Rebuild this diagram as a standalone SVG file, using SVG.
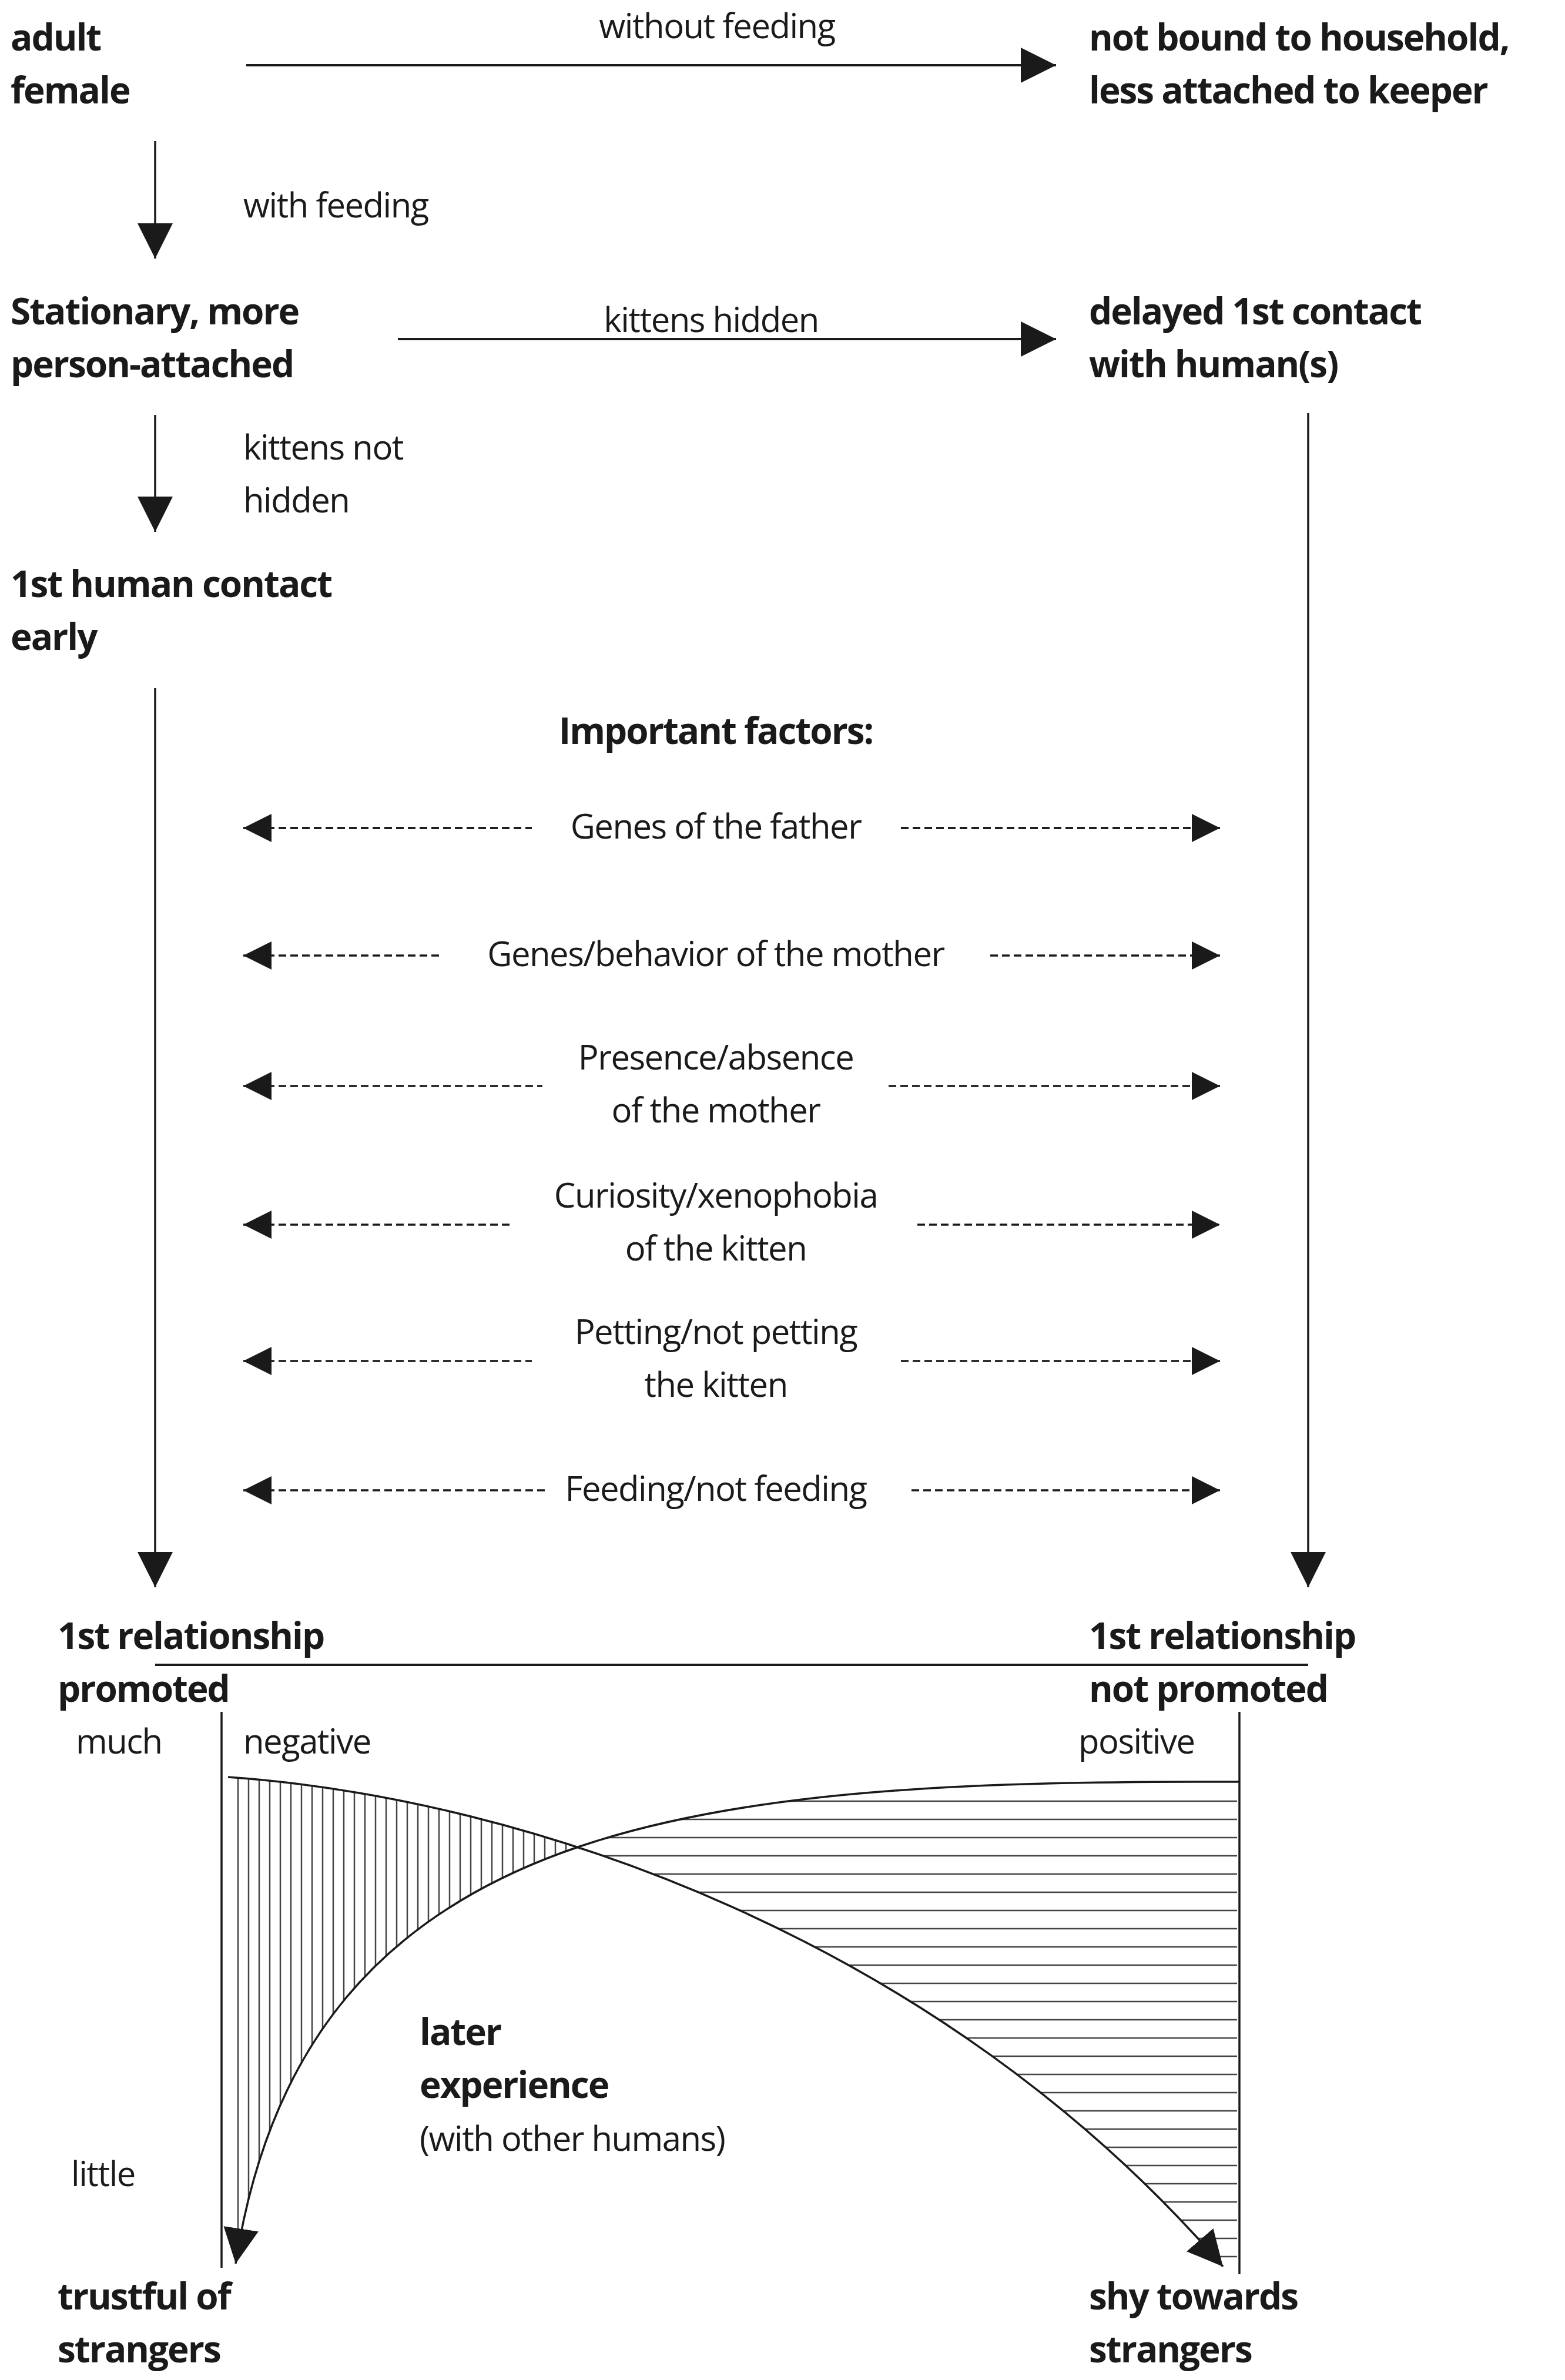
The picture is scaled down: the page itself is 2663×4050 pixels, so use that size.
<svg xmlns="http://www.w3.org/2000/svg" width="2663" height="4050" viewBox="0 0 2663 4050">
<style>
text{font-family:"Open Sans","Liberation Sans",sans-serif;fill:#1a1a1a}
.b{font-weight:bold;font-size:62px;letter-spacing:-2px}
.r{font-size:58px;letter-spacing:-1.5px}
.m{text-anchor:middle}
.ln{stroke:#1a1a1a;stroke-width:4;fill:none}
.th{stroke:#1a1a1a;stroke-width:3.5;fill:none}
.da{stroke:#1a1a1a;stroke-width:3.5;fill:none;stroke-dasharray:13 7}
.hv{stroke:#444;stroke-width:2.5}
</style>
<defs>
<marker id="ah" markerUnits="userSpaceOnUse" markerWidth="60" markerHeight="60" viewBox="0 0 50 50" refX="50" refY="25" orient="auto-start-reverse"><path d="M0,0 L50,25 L0,50 Z" fill="#1a1a1a"/></marker>
<marker id="as" markerUnits="userSpaceOnUse" markerWidth="48" markerHeight="48" viewBox="0 0 46 46" refX="46" refY="23" orient="auto-start-reverse"><path d="M0,0 L46,23 L0,46 Z" fill="#1a1a1a"/></marker>
<pattern id="pv" patternUnits="userSpaceOnUse" width="18" height="40"><line x1="9" y1="0" x2="9" y2="40" class="hv"/></pattern>
<pattern id="ph" patternUnits="userSpaceOnUse" width="40" height="31" y="3050"><line x1="0" y1="15" x2="40" y2="15" class="hv"/></pattern>
<clipPath id="cA"><path d="M388,3024 C900,3060 1600,3300 2081,3857 L2081,4000 L388,4000 Z"/></clipPath>
<clipPath id="cB"><path d="M2109,3032 C1200,3030 520,3080 401,3852 L392,3852 L392,2900 L2109,2900 Z"/></clipPath>
<clipPath id="cC"><path d="M2109,3032 C1200,3030 520,3080 401,3852 L2105,3852 Z"/></clipPath>
<clipPath id="cD"><path d="M388,3024 C900,3060 1600,3300 2081,3857 L2105,3857 L2105,2900 L388,2900 Z"/></clipPath>
</defs>
<rect width="2663" height="4050" fill="#fff"/>

<g id="connectors">
<line x1="419" y1="111" x2="1797" y2="111" class="ln" marker-end="url(#ah)"/>
<line x1="264" y1="240" x2="264" y2="440" class="th" marker-end="url(#ah)"/>
<line x1="677" y1="577" x2="1797" y2="577" class="ln" marker-end="url(#ah)"/>
<line x1="264" y1="706" x2="264" y2="905" class="th" marker-end="url(#ah)"/>
<line x1="264" y1="1171" x2="264" y2="2701" class="th" marker-end="url(#ah)"/>
<line x1="2226" y1="703" x2="2226" y2="2701" class="th" marker-end="url(#ah)"/>
<path d="M414,1409 H905 M1533,1409 H2076" class="da"/>
<line x1="414" y1="1409" x2="905" y2="1409" class="da" marker-start="url(#as)"/>
<line x1="1533" y1="1409" x2="2076" y2="1409" class="da" marker-end="url(#as)"/>
<line x1="414" y1="1626" x2="750" y2="1626" class="da" marker-start="url(#as)"/>
<line x1="1685" y1="1626" x2="2076" y2="1626" class="da" marker-end="url(#as)"/>
<line x1="414" y1="1848" x2="923" y2="1848" class="da" marker-start="url(#as)"/>
<line x1="1512" y1="1848" x2="2076" y2="1848" class="da" marker-end="url(#as)"/>
<line x1="414" y1="2084" x2="871" y2="2084" class="da" marker-start="url(#as)"/>
<line x1="1561" y1="2084" x2="2076" y2="2084" class="da" marker-end="url(#as)"/>
<line x1="414" y1="2316" x2="905" y2="2316" class="da" marker-start="url(#as)"/>
<line x1="1533" y1="2316" x2="2076" y2="2316" class="da" marker-end="url(#as)"/>
<line x1="414" y1="2536" x2="931" y2="2536" class="da" marker-start="url(#as)"/>
<line x1="1551" y1="2536" x2="2076" y2="2536" class="da" marker-end="url(#as)"/>
</g>

<g id="n-adult"><text class="b" x="18" y="86">adult</text><text class="b" x="18" y="176">female</text></g>
<g id="n-notbound"><text class="b" x="1853" y="86">not bound to household,</text><text class="b" x="1853" y="176">less attached to keeper</text></g>
<g id="n-stationary"><text class="b" x="18" y="552">Stationary, more</text><text class="b" x="18" y="642">person-attached</text></g>
<g id="n-delayed"><text class="b" x="1853" y="552">delayed 1st contact</text><text class="b" x="1853" y="642">with human(s)</text></g>
<g id="n-early"><text class="b" x="18" y="1016">1st human contact</text><text class="b" x="18" y="1106">early</text></g>
<g id="labels">
<text class="r m" x="1220" y="65">without feeding</text>
<text class="r" x="414" y="370">with feeding</text>
<text class="r m" x="1210" y="565">kittens hidden</text>
<text class="r" x="414" y="782">kittens not</text>
<text class="r" x="414" y="872">hidden</text>
</g>
<g id="factors">
<text class="b m" x="1218" y="1266">Important factors:</text>
<text class="r m" x="1218" y="1427">Genes of the father</text>
<text class="r m" x="1218" y="1644">Genes/behavior of the mother</text>
<text class="r m" x="1218" y="1820">Presence/absence</text>
<text class="r m" x="1218" y="1910">of the mother</text>
<text class="r m" x="1218" y="2055">Curiosity/xenophobia</text>
<text class="r m" x="1218" y="2145">of the kitten</text>
<text class="r m" x="1218" y="2287">Petting/not petting</text>
<text class="r m" x="1218" y="2377">the kitten</text>
<text class="r m" x="1218" y="2554">Feeding/not feeding</text>
</g>

<g id="graph">
<text class="b" x="98" y="2806">1st relationship</text>
<text class="b" x="98" y="2896">promoted</text>
<text class="b" x="1853" y="2806">1st relationship</text>
<text class="b" x="1853" y="2896">not promoted</text>
<line x1="264" y1="2833" x2="2226" y2="2833" class="ln"/>
<line x1="377" y1="2913" x2="377" y2="3859" class="th"/>
<line x1="2109" y1="2913" x2="2109" y2="3870" class="th"/>
<text class="r" x="129" y="2984">much</text>
<text class="r" x="414" y="2984">negative</text>
<text class="r" x="1835" y="2984">positive</text>
<text class="r" x="121" y="3720">little</text>
<g clip-path="url(#cA)"><g clip-path="url(#cB)"><rect x="388" y="2900" width="1720" height="1000" fill="url(#pv)"/></g></g>
<g clip-path="url(#cC)"><g clip-path="url(#cD)"><rect x="388" y="3040" width="1720" height="830" fill="url(#ph)"/></g></g>
<path d="M388,3024 C900,3060 1600,3300 2081,3857" class="th" marker-end="url(#ah)"/>
<path d="M2109,3032 C1200,3030 520,3080 401,3852" class="th" marker-end="url(#ah)"/>
<text class="b" x="714" y="3480">later</text>
<text class="b" x="714" y="3570">experience</text>
<text class="r" x="714" y="3660">(with other humans)</text>
<text class="b" x="98" y="3930">trustful of</text>
<text class="b" x="98" y="4020">strangers</text>
<text class="b" x="1853" y="3930">shy towards</text>
<text class="b" x="1853" y="4020">strangers</text>
</g>
</svg>
